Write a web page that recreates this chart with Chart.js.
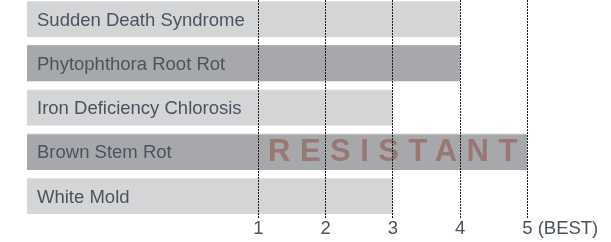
<!DOCTYPE html>
<html>
<head>
<meta charset="utf-8">
<script src="https://cdn.jsdelivr.net/npm/chart.js@4"></script>
<style>
  html, body { margin: 0; padding: 0; background: #fff; overflow: hidden; }
  canvas { display: block; margin-top: -3px; }
</style>
</head>
<body>
<canvas id="chart" width="611" height="245"></canvas>
<script>
// ==== Data ====
const categories = [
  "Sudden Death Syndrome",
  "Phytophthora Root Rot",
  "Iron Deficiency Chlorosis",
  "Brown Stem Rot",
  "White Mold"
];
const ratings = [4, 4, 3, 5, 3];
const tickValues = [1, 2, 3, 4, 5];
const tickLabels = ["1", "2", "3", "4", "5"];
const bestSuffix = "(BEST)";
const stamp = "RESISTANT";
const stampRow = 3; // Brown Stem Rot

// ==== Scale range ====
const xMin = -2.44;
const xMax = 6;

const labelFont = { family: "'Liberation Sans', Arial, sans-serif", size: 18.5 };
const textColor = "#4d5261";

// ==== Plugins ====
const stampPlugin = {
  id: "stamp",
  afterDatasetsDraw(chart) {
    const { ctx } = chart;
    const y = chart.scales.y;
    ctx.save();
    ctx.font = "bold 31px 'Liberation Sans', Arial, sans-serif";
    ctx.letterSpacing = "9.5px";
    ctx.fillStyle = "rgba(140, 70, 60, 0.5)";
    ctx.textBaseline = "middle";
    ctx.textAlign = "left";
    ctx.fillText(stamp, 268, y.getPixelForValue(stampRow) + 0.5);
    ctx.restore();
  }
};

const suffixPlugin = {
  id: "suffix",
  afterDraw(chart) {
    const { ctx } = chart;
    const x = chart.scales.x;
    const last = tickValues[tickValues.length - 1];
    ctx.save();
    ctx.font = labelFont.size + "px " + labelFont.family;
    const w = ctx.measureText(tickLabels[tickLabels.length - 1]).width;
    ctx.fillStyle = textColor;
    ctx.textBaseline = "middle";
    ctx.textAlign = "left";
    const yy = x.top + (labelFont.size * 1.2) / 2;
    ctx.fillText(" " + bestSuffix, x.getPixelForValue(last) + w / 2, yy);
    ctx.restore();
  }
};

// ==== Chart ====
new Chart(document.getElementById("chart"), {
  type: "bar",
  data: {
    labels: categories,
    datasets: [
      {
        data: ratings,
        base: xMin,
        backgroundColor: (c) => (c.dataIndex % 2 ? "#a7a8ab" : "#d4d5d7"),
        borderColor: (c) => (c.dataIndex % 2 ? "#b4b5b8" : "#dedfe0"),
        borderWidth: { top: 1, left: 0, right: 0, bottom: 0 },
        borderSkipped: false,
        categoryPercentage: 1,
        barPercentage: 0.826
      }
    ]
  },
  options: {
    indexAxis: "y",
    responsive: false,
    devicePixelRatio: 1,
    animation: false,
    layout: { padding: { left: 27, right: 16.4, top: 0, bottom: 1.7 } },
    plugins: {
      legend: { display: false },
      tooltip: { enabled: false }
    },
    scales: {
      x: {
        type: "linear",
        min: xMin,
        max: xMax,
        afterBuildTicks: (scale) => {
          scale.ticks = tickValues.map((v) => ({ value: v }));
        },
        ticks: {
          autoSkip: false,
          maxRotation: 0,
          padding: 0,
          color: textColor,
          font: labelFont,
          callback: (v) => tickLabels[tickValues.indexOf(v)]
        },
        grid: { color: "#1a1a1a", lineWidth: 1, drawTicks: false, z: 1 },
        border: { display: false, dash: [2, 1] }
      },
      y: {
        position: "left",
        grid: { display: false },
        border: { display: false },
        afterFit: (s) => {
          s.width = 0;
          s.paddingTop = 0;
          s.paddingBottom = 0;
        },
        ticks: {
          mirror: true,
          padding: 10,
          labelOffset: 1.5,
          z: 1,
          color: textColor,
          font: labelFont
        }
      }
    }
  },
  plugins: [stampPlugin, suffixPlugin]
});
</script>
</body>
</html>
